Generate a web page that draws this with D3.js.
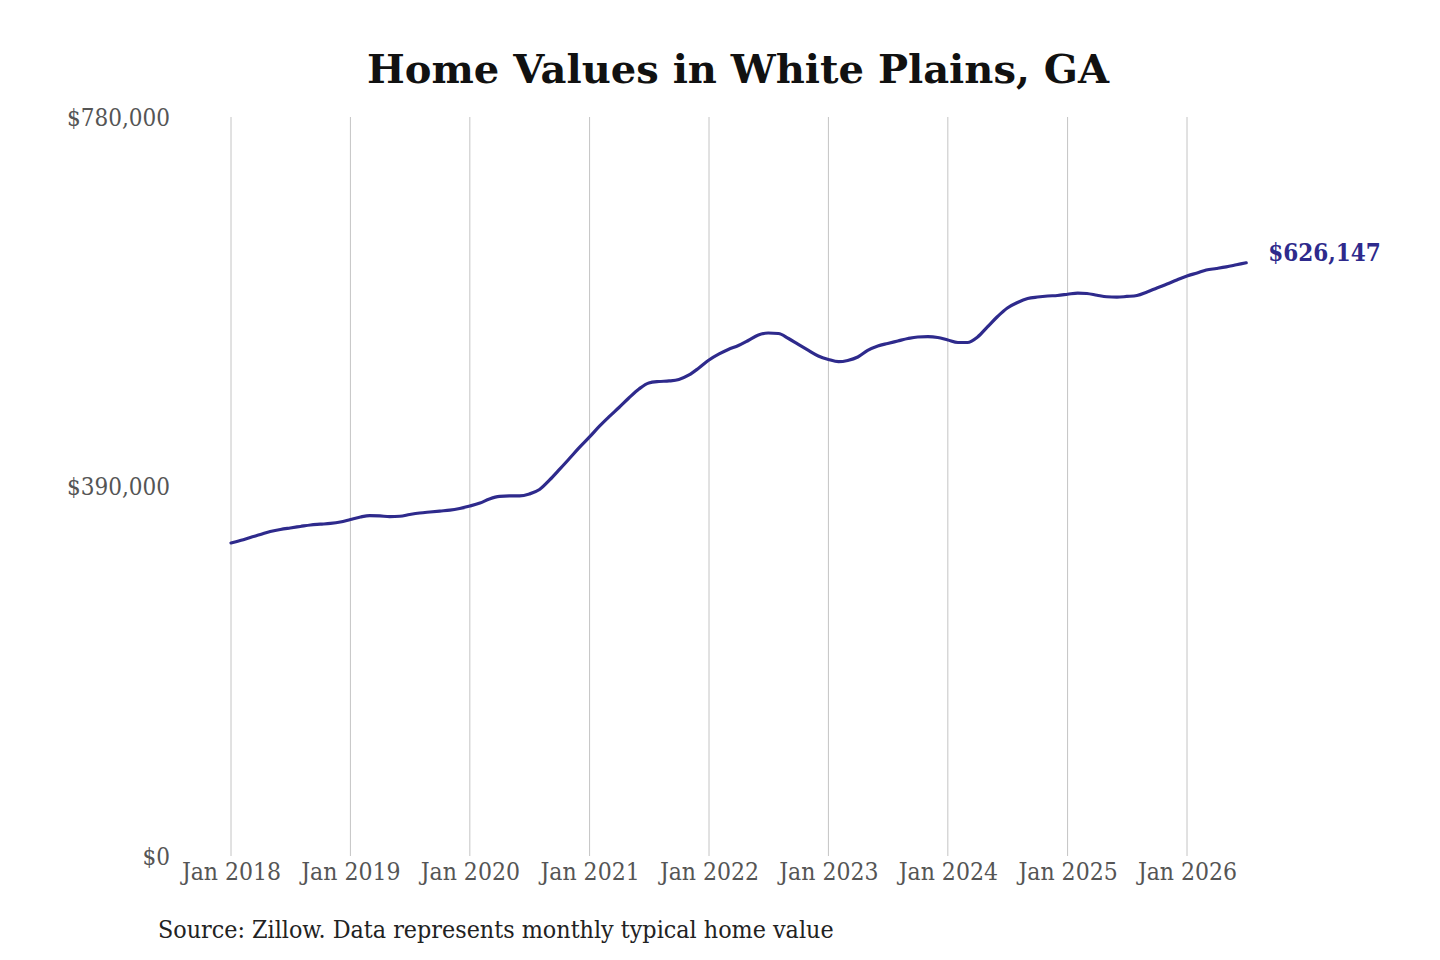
<!DOCTYPE html>
<html>
<head>
<meta charset="utf-8">
<script src="https://cdn.jsdelivr.net/npm/d3@7"></script>
<style>
  html, body { margin: 0; padding: 0; background: #ffffff; }
  svg { display: block; }
  .cond { font-family: "DejaVu Serif Condensed", "DejaVu Serif", serif; font-stretch: condensed; }
  .title { font-family: "DejaVu Serif", serif; font-stretch: normal; }
</style>
</head>
<body>
<svg id="chart" width="1440" height="960"></svg>
<script>
// ---- data ----
const startMonth = "2018-01";
const homeValues = [
  330400, 333200, 336200, 339300, 342500, 344600, 346200, 347800, 349400, 350200, 351000, 352500,
  355200, 357800, 359200, 358900, 358300, 358600, 360400, 362000, 363100, 364100, 365000, 366800,
  369400, 372600, 376800, 379500, 380000, 380000, 382100, 386800, 396900, 408000, 419800, 431200,
  442300, 453900, 463400, 473400, 483400, 492900, 499300, 500800, 501400, 503000, 507700, 515100,
  523500, 529900, 534600, 538800, 544100, 549900, 552000, 551500, 546200, 539900, 533600, 527800,
  524100, 521700, 523000, 526700, 533600, 538300, 541000, 543600, 546200, 547800, 548100, 547300,
  544600, 542000, 542000, 547800, 558400, 569400, 578400, 584200, 588400, 590000, 591100, 591600,
  592900, 594200, 593700, 591900, 590300, 589800, 590600, 591600, 595300, 599500, 603700, 608000,
  612200, 615400, 618500, 620100, 621800, 624000, 626147
];
const xTickYears = [2018, 2019, 2020, 2021, 2022, 2023, 2024, 2025, 2026];
const yTickValues = [0, 390000, 780000];
const titleText = "Home Values in White Plains, GA";
const sourceText = "Source: Zillow. Data represents monthly typical home value";
const endLabel = "$626,147";

// ---- build ----
const parseMonth = d3.timeParse("%Y-%m");
const start = parseMonth(startMonth);
const series = homeValues.map((v, i) => ({ date: d3.timeMonth.offset(start, i), value: v }));

const svg = d3.select("#chart");
const x = d3.scaleTime()
  .domain([new Date(2018, 0, 1), new Date(2026, 0, 1)])
  .range([231, 1187]);
const y = d3.scaleLinear().domain([0, 780000]).range([856, 117]);

// title
svg.append("text")
  .attr("class", "title")
  .attr("x", 738).attr("y", 83)
  .attr("text-anchor", "middle")
  .attr("font-weight", "bold")
  .attr("font-size", 40)
  .attr("fill", "#111")
  .text(titleText);

// vertical gridlines
const xTicks = xTickYears.map(yr => new Date(yr, 0, 1));
svg.append("g").selectAll("line").data(xTicks).join("line")
  .attr("x1", d => x(d)).attr("x2", d => x(d))
  .attr("y1", y(780000)).attr("y2", y(0))
  .attr("stroke", "#c4c4c4").attr("stroke-width", 1);

// x axis labels
const xAxis = d3.axisBottom(x).tickValues(xTicks).tickFormat(d3.timeFormat("Jan %Y")).tickSize(0).tickPadding(0);
const gx = svg.append("g").attr("transform", `translate(0, ${y(0)})`).call(xAxis);
gx.select(".domain").remove();
gx.attr("font-family", null).attr("font-size", null);
gx.selectAll("text")
  .attr("class", "cond")
  .attr("dy", null)
  .attr("y", 24)
  .attr("font-size", 24.5)
  .attr("fill", "#555");

// y axis labels
const yAxis = d3.axisLeft(y).tickValues(yTickValues).tickFormat(d => "$" + d3.format(",")(d)).tickSize(0).tickPadding(0);
const gy = svg.append("g").attr("transform", "translate(170, 0)").call(yAxis);
gy.select(".domain").remove();
gy.attr("font-family", null).attr("font-size", null);
gy.selectAll("text")
  .attr("class", "cond")
  .attr("x", 0)
  .attr("dy", "0.35em")
  .attr("font-size", 24)
  .attr("fill", "#555");

// line
const line = d3.line()
  .x(d => x(d.date))
  .y(d => y(d.value))
  .curve(d3.curveMonotoneX);
svg.append("path")
  .datum(series)
  .attr("d", line)
  .attr("fill", "none")
  .attr("stroke", "#2e2a8c")
  .attr("stroke-width", 3.2)
  .attr("stroke-linecap", "round")
  .attr("stroke-linejoin", "round");

// end label
const last = series[series.length - 1];
svg.append("text")
  .attr("class", "cond")
  .attr("x", x(last.date) + 22)
  .attr("y", y(last.value) - 10)
  .attr("dy", "0.35em")
  .attr("font-size", 24)
  .attr("font-weight", "bold")
  .attr("fill", "#2e2a8c")
  .text(endLabel);

// source
svg.append("text")
  .attr("class", "cond")
  .attr("x", 158).attr("y", 938)
  .attr("font-size", 24.8)
  .attr("fill", "#222")
  .text(sourceText);
</script>
</body>
</html>
